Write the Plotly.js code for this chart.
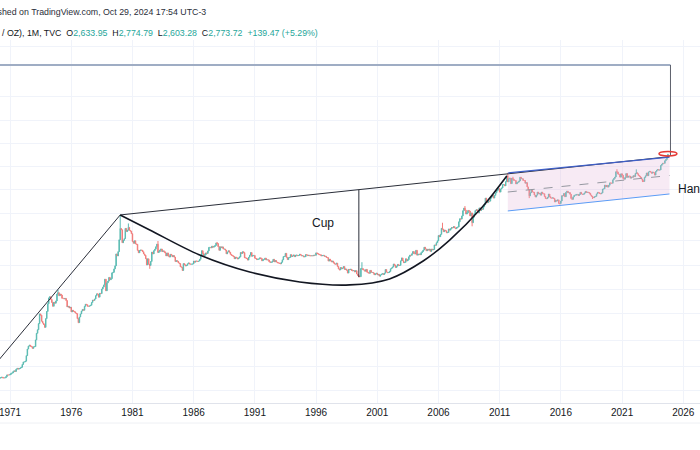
<!DOCTYPE html>
<html><head><meta charset="utf-8">
<script src="https://cdn.plot.ly/plotly-3.0.1.min.js"></script>
<style>html,body{margin:0;padding:0;background:#fff;}#chart{width:700px;height:450px;}</style>
</head><body><div id="chart"></div>
<script>
// ---- monthly closes (USD / oz), Jan 1970 .. Oct 2024 ----
const firstYear = 1970;
const closes1970s = [
35.0,35.0,35.2,35.6,35.9,35.4,35.3,35.4,36.2,37.5,37.4,37.4,
37.9,38.7,38.9,39.9,40.6,40.1,41.9,42.6,42.0,42.5,43.0,43.5,
46.0,48.3,48.3,49.0,54.6,62.1,65.7,67.0,65.5,64.9,62.9,64.9,
65.1,74.2,84.4,90.5,102.0,123.3,120.2,106.8,103.0,100.1,94.8,112.3,
129.2,150.2,168.4,172.2,163.3,154.1,143.0,154.6,151.8,158.8,181.7,186.5,
175.8,181.8,178.2,167.0,167.0,165.2,166.7,159.8,141.3,142.9,138.2,140.3,
128.2,132.3,129.6,128.4,125.5,123.8,112.5,104.0,116.0,123.2,130.3,134.5,
132.3,142.8,148.9,147.3,143.0,143.0,144.1,146.0,154.1,161.5,160.5,165.0,
175.8,182.3,181.6,170.9,184.2,183.1,200.3,208.1,217.1,242.6,193.4,226.0,
233.7,251.3,240.1,245.3,274.6,277.5,296.5,315.1,397.3,382.0,415.7,524.0];
const closes1980s = [
653.0,637.0,494.5,518.0,535.5,653.5,614.3,631.3,666.8,629.0,619.8,589.8,
506.5,489.0,513.8,482.8,479.3,426.0,406.0,425.0,428.8,427.0,414.5,397.5,
387.0,362.6,320.0,361.3,325.3,317.5,342.8,411.5,397.0,423.3,436.0,456.9,
481.0,408.5,414.8,429.3,437.5,416.0,422.0,414.3,405.0,382.0,405.0,382.4,
373.8,394.3,388.5,375.8,384.3,373.1,342.4,348.3,343.8,333.5,329.0,309.0,
306.7,287.8,329.3,321.4,314.0,317.8,327.5,333.3,326.0,325.1,325.3,326.8,
345.5,338.2,345.8,345.4,343.2,345.8,357.5,384.7,423.2,401.0,383.5,390.9,
405.5,401.2,421.1,451.2,451.3,447.3,462.5,453.4,459.5,468.8,492.5,486.5,
458.0,426.2,457.0,449.0,455.5,436.6,437.4,427.8,397.7,412.4,422.6,410.2,
394.0,387.0,383.2,377.6,361.8,373.0,368.3,359.8,366.5,375.3,408.2,401.0];
const closes1990s = [
415.1,407.7,368.5,367.8,363.1,352.2,372.3,387.8,408.4,379.5,384.9,386.2,
366.0,362.7,355.7,357.8,360.4,368.4,362.9,347.4,354.9,357.5,366.3,353.2,
354.1,353.1,341.7,336.4,337.5,343.4,357.8,340.0,349.0,339.3,334.2,333.0,
330.5,327.6,337.8,354.3,377.5,378.5,401.8,371.6,355.5,369.6,370.9,391.8,
377.9,381.6,389.2,376.5,387.6,388.3,384.0,385.8,394.9,389.1,383.1,383.3,
374.9,376.4,392.0,389.8,384.3,387.1,383.4,382.4,384.0,382.7,387.8,387.0,
405.6,400.7,396.4,391.3,390.6,382.0,385.3,386.5,379.0,379.5,371.3,369.3,
345.5,358.6,348.2,340.2,345.6,334.6,326.4,325.4,332.1,311.4,296.8,290.2,
304.9,297.4,301.0,310.7,293.6,296.3,288.9,273.4,293.9,292.3,294.7,287.8,
285.4,287.1,279.5,286.6,268.6,261.0,255.6,254.8,299.0,299.1,291.4,290.3];
const closes2000s = [
283.3,293.7,278.4,275.1,272.3,288.2,276.8,277.0,273.7,264.5,269.1,272.7,
264.5,266.7,257.7,263.2,267.5,270.6,265.9,273.0,293.1,278.8,275.5,276.5,
282.3,296.9,301.4,308.2,326.6,318.5,304.7,312.8,323.7,316.9,317.7,347.2,
367.5,347.5,334.9,336.8,361.4,346.0,354.8,375.6,388.0,386.3,398.4,416.3,
402.2,396.8,426.4,387.9,394.5,395.8,391.4,407.3,415.7,428.3,452.9,438.0,
422.4,435.5,428.0,435.7,417.3,437.1,429.0,433.3,473.3,470.8,494.6,513.0,
568.8,556.0,582.0,654.5,643.0,613.5,632.5,623.5,599.3,603.8,646.7,632.0,
650.5,665.5,661.8,677.0,659.1,650.5,665.5,672.0,743.0,789.5,783.5,833.8,
923.3,971.5,933.5,865.0,885.8,928.3,918.0,833.0,884.5,730.8,814.5,869.8,
927.3,942.0,916.5,883.3,975.5,926.0,955.5,949.5,995.8,1040.0,1182.0,1096.2];
const closes2010s = [
1081,1116,1113,1179,1213,1244,1181,1246,1307,1357,1386,1421,
1327,1410,1439,1536,1537,1500,1629,1825,1620,1722,1746,1566,
1737,1710,1668,1664,1558,1598,1614,1649,1776,1720,1722,1664,
1664,1578,1596,1469,1393,1234,1312,1395,1327,1324,1253,1205,
1251,1327,1284,1295,1251,1327,1286,1286,1217,1171,1168,1199,
1279,1213,1183,1180,1189,1171,1095,1133,1115,1141,1065,1061,
1116,1238,1233,1293,1213,1321,1351,1309,1315,1273,1172,1152,
1210,1248,1248,1268,1268,1242,1269,1321,1280,1270,1275,1303,
1345,1318,1325,1315,1298,1253,1224,1202,1191,1214,1222,1282,
1321,1313,1292,1283,1305,1409,1413,1520,1472,1513,1463,1517];
const closes2020s = [
1589,1585,1577,1686,1730,1781,1975,1968,1886,1879,1776,1898,
1847,1734,1708,1769,1906,1770,1814,1813,1743,1783,1774,1829,
1797,1909,1937,1897,1837,1807,1766,1711,1660,1634,1768,1824,
1928,1827,1969,1990,1963,1919,1965,1940,1849,1983,2036,2063,
2039,2044,2230,2286,2327,2326,2447,2503,2633.95,2773.72];

// notable wick extremes
const highOverrides = {'1974-12':197.5,'1980-01':850,'1980-09':720,'1983-02':511,'1987-12':502,
  '1999-10':338,'2006-05':730,'2008-03':1011,'2011-09':1921,'2012-02':1790,'2020-08':2075,
  '2022-03':2070,'2024-10':2774.79};
const lowOverrides = {'1976-08':103,'1982-06':297,'1985-02':285,'1999-07':252.5,'2001-04':255,
  '2008-10':681,'2013-06':1180,'2015-12':1046,'2018-08':1160,'2022-09':1615,'2024-10':2603.28};

const tickYears = [1971,1976,1981,1986,1991,1996,2001,2006,2011,2016,2021,2026];
const gridPrices = [27.4,44.6,74,125,200,320,521,866,1384,2168,3459,5420,8492,22970];

// drawing anchors (hand-drawn pattern lines on the chart)
const leftTrendDates = ['1970-01-01','1980-01-01'];  const leftTrendPrices = [49,850];
const rimDates = ['1980-01-01','2024-11-15'];        const rimPrices = [850,2650];
const targetDates = ['1969-01-01','2024-12-15'];     const targetPrices = [15850,15850];
const dropDates = ['2024-12-15','2024-12-15'];       const dropPrices = [15850,2700];
const cupDepthDates = ['1999-07-01','1999-07-01'];   const cupDepthPrices = [252.5,1388];
const cupArcDates = ['1980-01-01','1982-06-01','1986-07-01','1990-08-01','1994-09-01','1998-10-01',
  '2002-01-01','2004-10-01','2006-12-01','2009-08-01','2011-08-01'];
const cupArcPrices = [850,634,389,279,230,217,244,346,521,993,1818];
const channelDates = ['2011-09-01','2024-11-15'];
const channelTop = [1928,2630]; const channelMid = [1330,1835]; const channelBottom = [919,1280];
const circleDate = '2024-10-01'; const circlePrice = 2690;

// ---- build candles ----
const closes = [].concat(closes1970s,closes1980s,closes1990s,closes2000s,closes2010s,closes2020s);
const dates=[], opens=[], highs=[], lows=[];
closes.forEach((c,i)=>{
  const y = firstYear + Math.floor(i/12), m = i%12+1;
  const key = y+'-'+String(m).padStart(2,'0');
  dates.push(key+'-01');
  const o = i===0 ? c : closes[i-1];
  opens.push(o);
  highs.push(highOverrides[key] !== undefined ? highOverrides[key] : Math.max(o,c));
  lows.push(lowOverrides[key] !== undefined ? lowOverrides[key] : Math.min(o,c));
});

const lineTrace = (x,y,color,width,extra)=>Object.assign({type:'scatter',mode:'lines',x:x,y:y,
  line:{color:color,width:width},hoverinfo:'skip',showlegend:false},extra||{});

const traces = [
  {type:'scatter',mode:'lines',x:[channelDates[0],channelDates[1],channelDates[1],channelDates[0],channelDates[0]],
   y:[channelTop[0],channelTop[1],channelBottom[1],channelBottom[0],channelTop[0]],
   fill:'toself',fillcolor:'rgba(225,170,210,0.25)',line:{width:0},hoverinfo:'skip',showlegend:false},
  lineTrace(channelDates,channelMid,'#9598a1',1,{line:{color:'#9598a1',width:1,dash:'dash'}}),
  lineTrace(channelDates,channelBottom,'#5b9cf6',1),
  {type:'candlestick',x:dates,open:opens,high:highs,low:lows,close:closes,
   increasing:{line:{color:'#26a69a',width:1},fillcolor:'#26a69a'},
   decreasing:{line:{color:'#ef5350',width:1},fillcolor:'#ef5350'},
   opacity:0.75,hoverinfo:'skip',showlegend:false},
  lineTrace(leftTrendDates,leftTrendPrices,'#2a2e39',1),
  lineTrace(rimDates,rimPrices,'#2a2e39',1),
  lineTrace(channelDates,channelTop,'#3f5fc8',1.2),
  lineTrace(targetDates,targetPrices,'#9fadc4',1.8),
  lineTrace(dropDates,dropPrices,'#5d606b',1),
  lineTrace(cupDepthDates,cupDepthPrices,'#2a2e39',1),
  lineTrace(cupArcDates,cupArcPrices,'#131722',1.6,{line:{color:'#131722',width:1.6,shape:'spline',smoothing:1}})
];

const teal = '#26a69a', dark = '#131722';
const hdr2 = '/ OZ), 1M, TVC&nbsp; O<span style="color:'+teal+'">2,633.95</span>&nbsp; H<span style="color:'+teal+'">2,774.79</span>&nbsp; L<span style="color:'+teal+'">2,603.28</span>&nbsp; C<span style="color:'+teal+'">2,773.72</span>&nbsp; <span style="color:'+teal+'">+139.47 (+5.29%)</span>';

const layout = {
  width:700,height:450,margin:{l:0,r:0,t:40,b:47},
  paper_bgcolor:'#ffffff',plot_bgcolor:'#ffffff',showlegend:false,
  font:{family:'Liberation Sans, Arial, sans-serif',color:dark},
  xaxis:{type:'date',range:['1970-03-07','2027-05-15'],
    tickvals:tickYears.map(y=>y+'-01-01'),ticktext:tickYears.map(String),
    showgrid:true,gridcolor:'#f0f3fa',gridwidth:1,showline:true,linecolor:'#e0e3eb',
    ticks:'',zeroline:false,rangeslider:{visible:false},ticklabeloverflow:'allow',
    tickfont:{family:'Liberation Sans, Arial, sans-serif',size:10,color:dark}},
  yaxis:{type:'log',range:[1.3358,4.412],tickvals:gridPrices,showticklabels:false,
    showgrid:true,gridcolor:'#f0f3fa',zeroline:false,showline:false,ticks:''},
  shapes:[
    {type:'line',xref:'paper',yref:'paper',x0:0,x1:1,y0:-0.0551,y1:-0.0551,line:{color:'#eef0f4',width:1}},
    {type:'circle',xref:'x',yref:'y',xsizemode:'pixel',ysizemode:'pixel',
     xanchor:circleDate,yanchor:circlePrice,x0:-9,x1:9,y0:-4.5,y1:4.5,
     line:{color:'#e53935',width:1.5},layer:'above'}
  ],
  annotations:[
    {xref:'paper',yref:'paper',x:-0.035,y:1.0771,xanchor:'left',yanchor:'middle',showarrow:false,
     text:'Published on TradingView.com, Oct 29, 2024 17:54 UTC-3',font:{size:8.8,color:'#2a2e39'}},
    {xref:'paper',yref:'paper',x:0,y:1.0193,xanchor:'left',yanchor:'middle',showarrow:false,
     text:hdr2,font:{size:8.8,color:dark}},
    {xref:'x',yref:'y',x:'1996-08-01',y:Math.log10(726),xanchor:'center',yanchor:'middle',showarrow:false,
     text:'Cup',font:{size:12,color:dark}},
    {xref:'x',yref:'y',x:'2025-06-01',y:Math.log10(1410),xanchor:'left',yanchor:'middle',showarrow:false,
     text:'Handle',font:{size:12,color:dark}}
  ]
};

Plotly.newPlot('chart',traces,layout,{staticPlot:true,displayModeBar:false});
</script></body></html>
